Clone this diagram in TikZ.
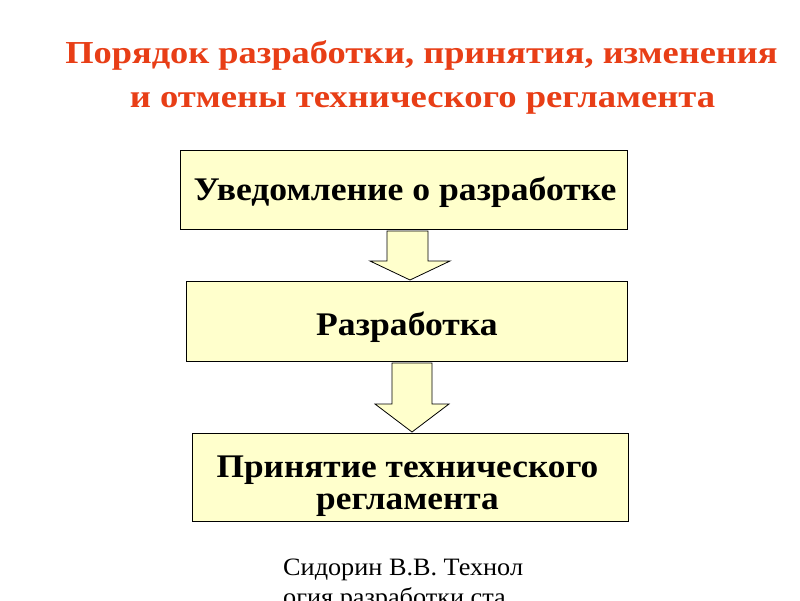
\documentclass[tikz,border=0pt]{standalone}
\usepackage{fontspec}
\setmainfont{Liberation Serif}
\definecolor{titlered}{RGB}{232,62,22}
\definecolor{boxfill}{RGB}{255,255,204}
\tikzset{
  stepbox/.style={draw=black, line width=1pt, fill=boxfill, inner sep=0pt},
  boxtext/.style={font=\bfseries\fontsize{33}{32}\selectfont, anchor=base, inner sep=0pt},
  blockarrow/.style={draw=black, line width=0.8pt, fill=boxfill, line join=miter},
  titletext/.style={text=titlered, font=\bfseries\fontsize{32}{38}\selectfont, anchor=base, inner sep=0pt},
  foottext/.style={font=\fontsize{25}{30}\selectfont, anchor=base west, inner sep=0pt}
}
\begin{document}
\begin{tikzpicture}[x=1pt,y=-1pt]
\clip (0,0) rectangle (800,600);
\fill[white] (0,0) rectangle (800,600);
\node[titletext] (t1) at (421.5,63) {\scalebox{1.137}[1]{Порядок разработки, принятия, изменения}};
\node[titletext] (t2) at (422.5,107) {\scalebox{1.145}[1]{и отмены технического регламента}};
\node[stepbox, minimum width=447pt, minimum height=79pt] (b1) at (403.5,189.5) {};
\node[stepbox, minimum width=441pt, minimum height=80pt] (b2) at (407,321) {};
\node[stepbox, minimum width=436pt, minimum height=88pt] (b3) at (410,477) {};
\node[boxtext] (l1) at (405,200) {\scalebox{1.08}[1]{Уведомление о разработке}};
\node[boxtext] (l2) at (407,335) {\scalebox{1.08}[1]{Разработка}};
\node[boxtext] (l3a) at (407.5,477) {\scalebox{1.07}[1]{Принятие технического}};
\node[boxtext] (l3b) at (407.5,509) {\scalebox{1.07}[1]{регламента}};
\draw[blockarrow] (387,231) -- (428,231) -- (428,261) -- (450,261) -- (410,280) -- (370,261) -- (387,261) -- cycle;
\draw[blockarrow] (392,363) -- (432,363) -- (432,404) -- (449,404) -- (412,432) -- (375,404) -- (392,404) -- cycle;
\node[foottext] (f1) at (283,575) {\scalebox{1.05}[1]{Сидорин В.В. Технол}};
\node[foottext] (f2) at (283,605) {\scalebox{1.05}[1]{огия разработки ста}};
\end{tikzpicture}
\end{document}
